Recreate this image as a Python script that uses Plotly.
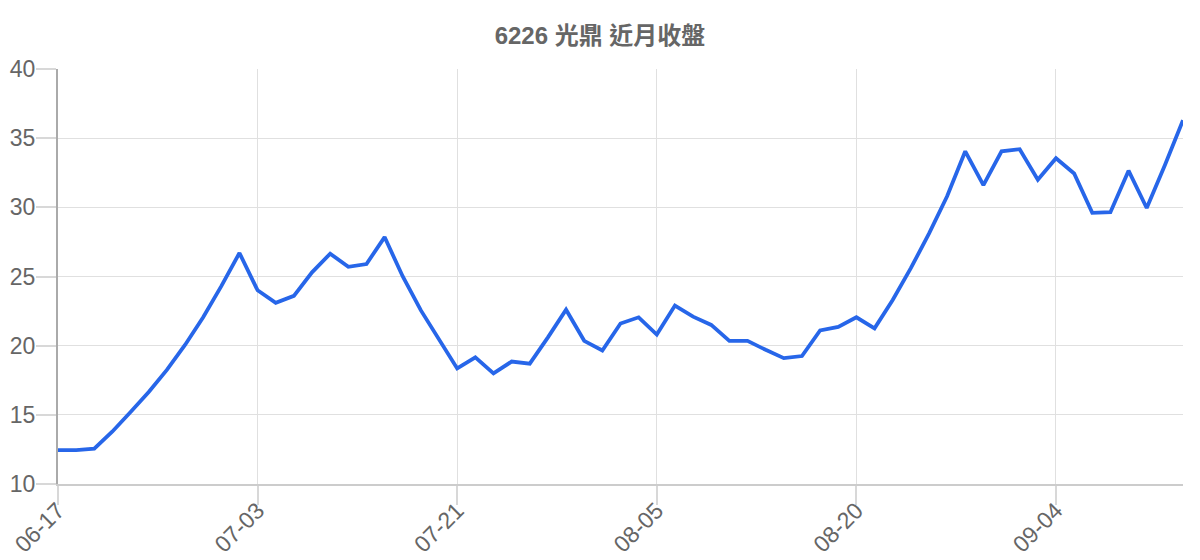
import plotly.graph_objects as go

# trading days (MM-DD)
dates = [
    "06-17", "06-18", "06-19", "06-20", "06-23", "06-24", "06-25", "06-26",
    "06-27", "06-30", "07-02", "07-03",
    "07-04", "07-08", "07-09", "07-10", "07-11", "07-14", "07-15", "07-16",
    "07-17", "07-18", "07-21",
    "07-22", "07-23", "07-24", "07-25", "07-28", "07-29", "07-30", "07-31",
    "08-01", "08-04", "08-05",
    "08-06", "08-07", "08-08", "08-11", "08-12", "08-13", "08-14", "08-15",
    "08-18", "08-19", "08-20",
    "08-21", "08-22", "08-25", "08-26", "08-27", "08-28", "08-29", "09-01",
    "09-02", "09-03", "09-04",
    "09-05", "09-08", "09-09", "09-10", "09-11", "09-12", "09-15",
]

close = [
    12.45, 12.45, 12.55, 13.8, 15.2, 16.65, 18.25, 20.05, 22.05, 24.3,
    26.7, 24.0, 23.1, 23.6, 25.3, 26.65, 25.7, 25.9, 27.85, 25.0,
    22.55, 20.45, 18.35, 19.15, 18.0, 18.85, 18.7, 20.6, 22.6, 20.35,
    19.65, 21.6, 22.05, 20.8, 22.9, 22.1, 21.5, 20.35, 20.35, 19.7,
    19.1, 19.25, 21.1, 21.35, 22.05, 21.25, 23.3, 25.6, 28.1, 30.8,
    34.05, 31.6, 34.05, 34.2, 32.0, 33.55, 32.45, 29.6, 29.65, 32.65,
    29.95, 33.05, 36.3,
]

tick_dates = dates[::11]
y_ticks = [10, 15, 20, 25, 30, 35, 40]

fig = go.Figure()

fig.add_trace(
    go.Scatter(
        x=dates,
        y=close,
        mode="lines",
        name="收盤",
        line={"color": "#2766e9", "width": 3.8},
        hoverinfo="x+y",
    )
)

# Layout adjustments
fig.update_layout(
    title={
        "text": "<b>6226 光鼎 近月收盤</b>",
        "x": 0.5,
        "xanchor": "center",
        "y": 0.937,
        "yanchor": "middle",
        "font": {
            "family": "Liberation Sans, Noto Sans CJK TC, sans-serif",
            "size": 24,
            "color": "#666666",
        },
    },
    width=1200,
    height=560,
    margin=dict(l=58, r=17, t=69, b=76, autoexpand=False),
    plot_bgcolor="white",
    paper_bgcolor="white",
    showlegend=False,
    font={"family": "Liberation Sans, sans-serif", "size": 23, "color": "#666666"},
)

fig.update_xaxes(
    type="category",
    range=[0, len(dates) - 1],
    tickmode="array",
    tickvals=tick_dates,
    ticktext=tick_dates,
    tickangle=-45,
    ticks="outside",
    ticklen=19,
    tickcolor="#d8d8d8",
    tickwidth=2,
    ticklabelstandoff=-17,
    showgrid=True,
    gridcolor="#e0e0e0",
    gridwidth=1.3,
    showline=True,
    linecolor="#cccccc",
    linewidth=2,
    zeroline=False,
    automargin=False,
    tickfont={"size": 23, "color": "#666666"},
)

fig.update_yaxes(
    range=[10, 40],
    tickmode="array",
    tickvals=y_ticks,
    ticks="outside",
    ticklen=20,
    tickcolor="#d8d8d8",
    tickwidth=2,
    ticklabelstandoff=-4,
    showgrid=True,
    gridcolor="#e0e0e0",
    gridwidth=1.3,
    showline=True,
    linecolor="#aaaaaa",
    linewidth=2,
    zeroline=False,
    automargin=False,
    tickfont={"size": 23, "color": "#666666"},
)

# page has a default 8px body margin; drop it so the chart sits at 0,0
fig.write_html(
    "out.html",
    config={"displayModeBar": False},
    post_script="document.body.style.margin='0';",
)
